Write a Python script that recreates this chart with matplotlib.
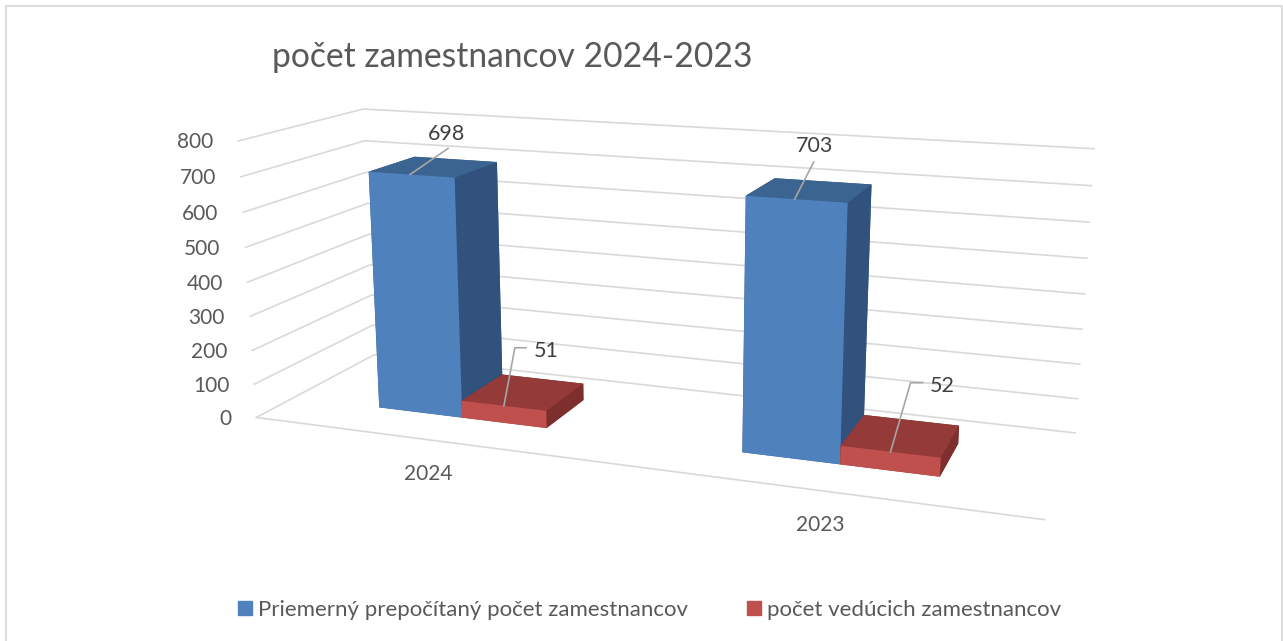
# 3D column chart, pocet zamestnancov 2024-2023
import matplotlib
matplotlib.use('Agg')
import matplotlib.pyplot as plt
from matplotlib.lines import Line2D
from matplotlib.patches import Patch
from mpl_toolkits.mplot3d import proj3d

years = ['2024', '2023']
avg_staff = [698, 703]
managers = [51, 52]
z_ticks = [0, 100, 200, 300, 400, 500, 600, 700, 800]
series_names = ['Priemerný prepočítaný počet zamestnancov', 'počet vedúcich zamestnancov']
title = 'počet zamestnancov 2024-2023'

W, H = 1283, 641
grid_col = '#d9d9d9'
text_col = '#595959'
label_col = '#404040'
leader_col = '#a6a6a6'
# faces in bar3d order: -z, +z, -y, +y, -x, +x
blue = ['#3c6491', '#3c6491', '#4f81bd', '#345a85', '#345a85', '#31527c']
red = ['#943a38', '#943a38', '#c0504d', '#7d2f2d', '#7d2f2d', '#7d2f2d']

plt.rcParams['font.family'] = ['Lato', 'DejaVu Sans']
fig = plt.figure(figsize=(W/100, H/100), dpi=100)

# camera and position fitted against the wall corners of the reference
L, left, bot = 860.57, 218.15, -88.88
ax = fig.add_axes([left/W, bot/H, L/W, L/H], projection='3d')
ax.set_xlim(0, 2)
ax.set_ylim(0, 1)
ax.set_zlim(0, 800)
ax.view_init(elev=14.22, azim=-69.888, roll=0)
ax.set_proj_type('persp', focal_length=0.3489)
ax.set_box_aspect((2.7754, 0.8388, 1))
ax.set_axis_off()
ax.patch.set_alpha(0)
ax.computed_zorder = False

def to_px(x, y, z):
    xs, ys, _ = proj3d.proj_transform(x, y, z, ax.get_proj())
    px = ax.transData.transform((xs, ys))
    return px[0], H - px[1]

def px_line(xs, ys):
    fig.add_artist(Line2D([x/W for x in xs], [1 - y/H for y in ys], color=leader_col, lw=1.2))

def px_text(x, y, s, ha='center', **kw):
    fig.text(x/W, 1 - y/H, s, ha=ha, va='center', **kw)

ax.apply_aspect()

for z in z_ticks:
    ax.plot([0, 0, 2], [0, 1, 1], [z, z, z], color=grid_col, lw=1.2, zorder=1, clip_on=False)
    x, y = to_px(0, 0, z)
    px_text(x - 25, y + 1.5, str(z), ha='right', fontsize=15, color=text_col)
ax.plot([0, 2], [0, 0], [0, 0], color=grid_col, lw=1.2, zorder=1, clip_on=False)

blue_w = 0.243
red_w = 0.238
front, depth = 0.3, 0.4
for i in range(len(years)):
    ax.bar3d(i + 0.5 - blue_w, front, 0, blue_w, depth, avg_staff[i], color=blue, shade=False, zorder=2)
for i in range(len(years)):
    ax.bar3d(i + 0.5, front, 0, red_w, depth, managers[i], color=red, shade=False, zorder=3)

# leader lines start on the bar tops, the other ends are offsets in pixels
anchors = [to_px(0.375, front, avg_staff[0]), to_px(1.375, front, avg_staff[1]),
           to_px(0.62, front, managers[0]), to_px(1.62, front, managers[1])]
x, y = anchors[0]
px_line([x, x + 38], [y, y - 26])
px_text(x + 37, y - 41, str(avg_staff[0]), fontsize=15.5, color=label_col)
x, y = anchors[1]
px_line([x, x + 19], [y, y - 37])
px_text(x + 20, y - 53, str(avg_staff[1]), fontsize=15.5, color=label_col)
x, y = anchors[2]
px_line([x, x + 11, x + 22], [y, y - 58, y - 58])
px_text(x + 42, y - 55, str(managers[0]), fontsize=15.5, color=label_col)
x, y = anchors[3]
px_line([x, x + 20, x + 32], [y, y - 69, y - 69])
px_text(x + 52, y - 66, str(managers[1]), fontsize=15.5, color=label_col)

px_text(428, 474, years[0], fontsize=15, color=text_col)
px_text(820, 525, years[1], fontsize=15, color=text_col)

px_text(272, 57, title, ha='left', fontsize=24.2, color=text_col)

handles = [Patch(color=blue[2]), Patch(color=red[2])]
fig.legend(handles, series_names, loc='center', bbox_to_anchor=(649.5/W, 1 - 610/H), ncol=2,
           frameon=False, fontsize=16, labelcolor=text_col, handlelength=0.63, handleheight=0.63,
           handletextpad=0.27, columnspacing=2.65, borderpad=0)

# chart frame, bottom edge is cut off in the reference
fig.add_artist(Line2D([6/W, 6/W, 1282/W, 1282/W], [0, 1 - 6/H, 1 - 6/H, 0], color=grid_col, lw=1.3))

fig.savefig('out.png', dpi=100)
